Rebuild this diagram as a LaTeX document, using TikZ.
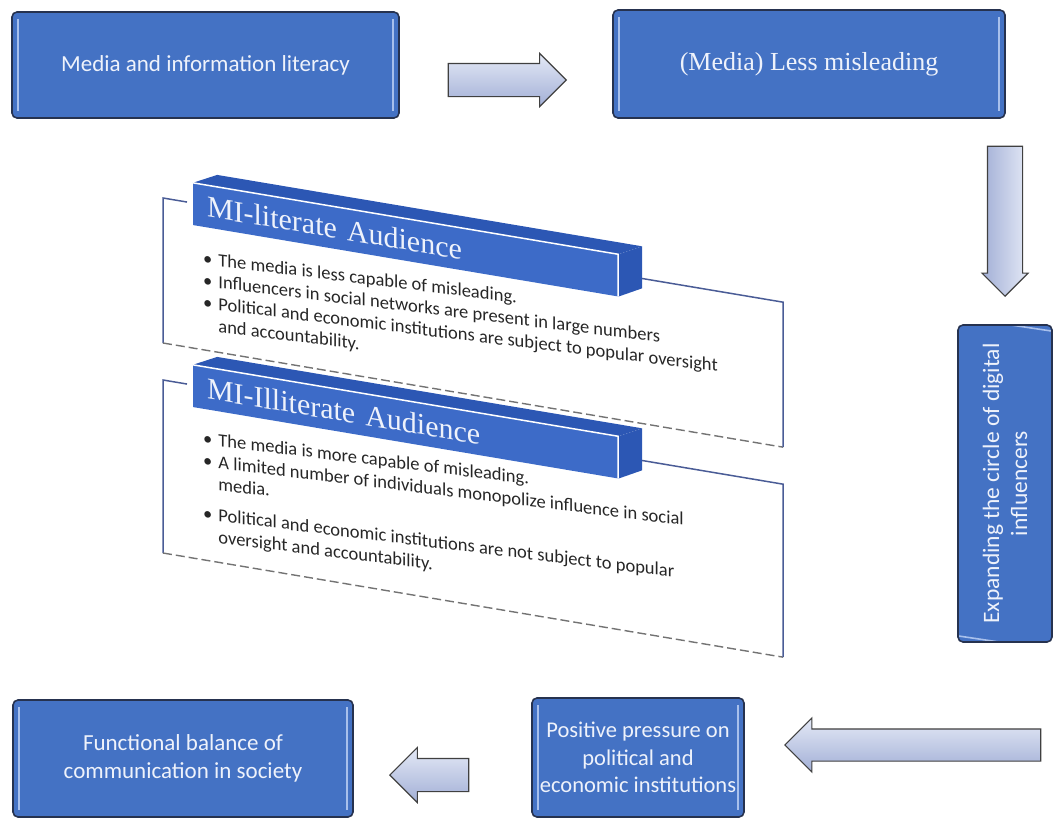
\documentclass[tikz,border=0pt]{standalone}
\usepackage{fontspec}
\setmainfont{Carlito}
\newfontfamily\serifface{Liberation Serif}
\usetikzlibrary{arrows.meta,positioning,shapes.arrows}
\definecolor{boxblue}{HTML}{4472C4}
\definecolor{boxedge}{HTML}{26324F}
\definecolor{bevelblue}{HTML}{A8C0EC}
\definecolor{arrowtop}{HTML}{E4E9F6}
\definecolor{arrowbot}{HTML}{A2AFD6}
\definecolor{bannerblue}{HTML}{3D6BC8}
\definecolor{bannerdark}{HTML}{2C57B4}
\definecolor{frameblue}{HTML}{4A5C96}
\definecolor{textwhite}{HTML}{EEF2FB}

\begin{document}
\begin{tikzpicture}[
  x=1pt, y=1pt,
  box/.style={rectangle, rounded corners=5pt, draw=boxedge, line width=1.6pt,
    fill=boxblue, text=textwhite, align=center, inner sep=0pt,
    font=\fontsize{23}{28}\selectfont},
  sidebevel/.style={path picture={
      \draw[bevelblue, line width=1.6pt]
        ([shift={(6pt,-7pt)}]path picture bounding box.north west) --
        ([shift={(6pt,7pt)}]path picture bounding box.south west);
      \draw[bevelblue, line width=1.6pt]
        ([shift={(-6pt,-7pt)}]path picture bounding box.north east) --
        ([shift={(-6pt,7pt)}]path picture bounding box.south east);
    }},
  endbevel/.style={path picture={
      \draw[bevelblue, line width=1.6pt]
        ([shift={(7pt,-6pt)}]path picture bounding box.north west) --
        ([shift={(-7pt,-6pt)}]path picture bounding box.north east);
      \draw[bevelblue, line width=1.6pt]
        ([shift={(7pt,6pt)}]path picture bounding box.south west) --
        ([shift={(-7pt,6pt)}]path picture bounding box.south east);
    }},
  blockarrow/.style={single arrow, draw=black!75, line width=1.1pt, anchor=tip},
  banner/.style={fill=bannerblue, text=textwhite, minimum height=42pt,
    inner xsep=14pt, text width=397pt, align=left,
    font=\serifface\fontsize{30}{30}\selectfont},
  frameline/.style={draw=frameblue, line width=1.5pt},
  framedash/.style={draw=black!55, line width=1.4pt, dash pattern=on 9pt off 4pt},
  bullets/.style={anchor=north west, inner sep=0pt, text=black!85, yslant=0.045,
    font=\fontsize{18.5}{22}\selectfont}
]
\useasboundingbox (0,0) rectangle (1055,-819);

% ==================
% Top row
% ==================
\node[box, sidebevel, minimum width=387pt, minimum height=106pt] (mil) at (205.5,-65)
  {Media and information literacy};
\node[box, sidebevel, minimum width=392pt, minimum height=108pt,
  font=\serifface\fontsize{26}{28}\selectfont] (less) at (809,-64)
  {(Media) Less misleading};

\node[blockarrow, inner sep=16pt, single arrow head extend=10pt,
  minimum height=118pt, minimum width=52pt,
  top color=arrowtop, bottom color=arrowbot] (a1) at (567,-80) {};

% ==================
% Right column
% ==================
\node[blockarrow, inner sep=17pt, single arrow head extend=5.5pt,
  shape border rotate=270, minimum height=150pt, minimum width=45pt,
  left color=arrowbot, right color=arrowtop] (a2) at (1005,-297) {};
\node[box, endbevel, rotate=90, minimum width=317pt, minimum height=94pt,
  font=\fontsize{23.5}{28}\selectfont] (circle) at (1005,-483.5)
  {Expanding the circle of digital\\influencers};

% ==================
% Bottom row
% ==================
\node[blockarrow, inner sep=15.5pt, single arrow head extend=11pt,
  shape border rotate=180, minimum height=256pt, minimum width=53pt,
  top color=arrowtop, bottom color=arrowbot] (a3) at (784,-745) {};
\node[box, sidebevel, minimum width=212pt, minimum height=119pt,
  font=\fontsize{22.5}{27.5}\selectfont] (press) at (638,-757.5)
  {Positive pressure on\\political and\\economic institutions};
\node[blockarrow, inner sep=16pt, single arrow head extend=11pt,
  shape border rotate=180, minimum height=79pt, minimum width=55pt,
  top color=arrowtop, bottom color=arrowbot] (a4) at (389,-775) {};
\node[box, sidebevel, minimum width=340pt, minimum height=117pt] (bal) at (183,-758.5)
  {Functional balance of\\communication in society};

% ==================
% MI-literate panel
% ==================
\begin{scope}[shift={(163,-198)}, yslant=-0.168, transform shape]
  \draw[frameline] (24,0) -- (0,0) -- (0,-145);
  \draw[framedash] (0,-145) -- (620,-145);
  \draw[frameline] (620,-145) -- (620,0) -- (470,0);
  \node[banner] (litban) at (242.5,-1) {MI-literate Audience};
  \fill[bannerdark] (litban.north west) -- (litban.north east) -- ++(24,12)
    -- ++(-425,0) -- cycle;
  \fill[bannerdark] (litban.south east) -- (litban.north east) -- ++(24,12)
    -- ++(0,-42) -- cycle;
  \draw[white, line width=1.5pt] (litban.north west) -- (litban.north east)
    -- (litban.south east);
  \node[bullets] (litpts) at (40,-44) {%
    \begin{tabular}{@{}l@{\hspace{6pt}}l@{}}
      \textbullet & The media is less capable of misleading.\\
      \textbullet & Influencers in social networks are present in large numbers\\
      \textbullet & Political and economic institutions are subject to popular oversight\\
                  & and accountability.
    \end{tabular}};
\end{scope}

% ==================
% MI-Illiterate panel
% ==================
\begin{scope}[shift={(163,-380)}, yslant=-0.168, transform shape]
  \draw[frameline] (24,0) -- (0,0) -- (0,-173);
  \draw[framedash] (0,-173) -- (620,-173);
  \draw[frameline] (620,-173) -- (620,0) -- (470,0);
  \node[banner] (illban) at (242.5,-1) {MI-Illiterate Audience};
  \fill[bannerdark] (illban.north west) -- (illban.north east) -- ++(24,12)
    -- ++(-425,0) -- cycle;
  \fill[bannerdark] (illban.south east) -- (illban.north east) -- ++(24,12)
    -- ++(0,-42) -- cycle;
  \draw[white, line width=1.5pt] (illban.north west) -- (illban.north east)
    -- (illban.south east);
  \node[bullets] (illpts) at (40,-42) {%
    \begin{tabular}{@{}l@{\hspace{6pt}}l@{}}
      \textbullet & The media is more capable of misleading.\\
      \textbullet & A limited number of individuals monopolize influence in social\\
                  & media.\\[9pt]
      \textbullet & Political and economic institutions are not subject to popular\\
                  & oversight and accountability.
    \end{tabular}};
\end{scope}
\end{tikzpicture}
\end{document}
